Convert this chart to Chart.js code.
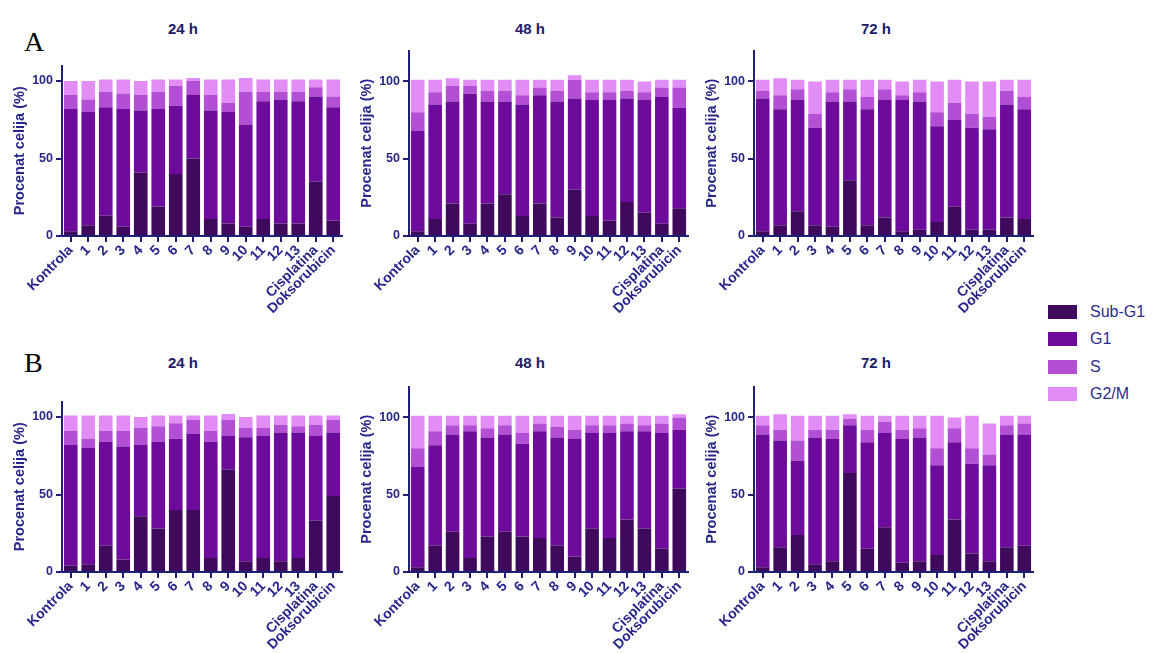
<!DOCTYPE html>
<html>
<head>
<meta charset="utf-8">
<script src="https://cdn.jsdelivr.net/npm/chart.js@4.4.1/dist/chart.umd.min.js"></script>
<style>
  body { margin: 0; background: #fff; width: 1156px; height: 653px; overflow: hidden; position: relative; }
  .panel { position: absolute; }
  .ttl { position: absolute; font: bold 15px "Liberation Sans", Arial, sans-serif; color: #1c1c6e; transform: translate(-50%, -50%); white-space: nowrap; }
  .letter { position: absolute; font: 28px "Liberation Serif", "Times New Roman", serif; color: #000; }
  .legend { position: absolute; left: 1048px; top: 298px; font: 16px "Liberation Sans", Arial, sans-serif; color: #2c2c8e; }
  .legend div { height: 27.5px; display: flex; align-items: center; }
  .legend span.box { width: 29px; height: 14px; margin-right: 13px; display: inline-block; }
</style>
</head>
<body>

<div class="letter" style="left:24px;top:26px;">A</div>
<div class="letter" style="left:24px;top:347px;">B</div>

<div class="ttl" style="left:183px;top:28px;">24 h</div>
<div class="ttl" style="left:530px;top:28px;">48 h</div>
<div class="ttl" style="left:876px;top:28px;">72 h</div>
<div class="ttl" style="left:183px;top:362px;">24 h</div>
<div class="ttl" style="left:530px;top:362px;">48 h</div>
<div class="ttl" style="left:876px;top:362px;">72 h</div>

<div class="panel" id="pA24"><canvas id="cA24"></canvas></div>
<div class="panel" id="pA48"><canvas id="cA48"></canvas></div>
<div class="panel" id="pA72"><canvas id="cA72"></canvas></div>
<div class="panel" id="pB24"><canvas id="cB24"></canvas></div>
<div class="panel" id="pB48"><canvas id="cB48"></canvas></div>
<div class="panel" id="pB72"><canvas id="cB72"></canvas></div>

<div class="legend" id="legend"></div>

<script>
// ---- data (percent of cells per phase) ----
const categories = ['Kontrola', '1', '2', '3', '4', '5', '6', '7', '8', '9', '10', '11', '12', '13', 'Cisplatina', 'Doksorubicin'];
const phases = ['Sub-G1', 'G1', 'S', 'G2/M'];
const yTicks = [0, 50, 100];

// A - 24 h
const a24SubG1 = [3, 7, 13, 6, 41, 19, 40, 50, 11, 8, 6, 11, 8, 8, 35, 10];
const a24G1    = [79, 73, 70, 76, 40, 63, 44, 41, 70, 72, 66, 76, 80, 79, 55, 73];
const a24S     = [9, 8, 10, 10, 10, 11, 13, 9, 10, 6, 21, 6, 5, 6, 6, 7];
const a24G2M   = [9, 12, 8, 9, 9, 8, 4, 2, 10, 15, 9, 8, 8, 8, 5, 11];
// A - 48 h
const a48SubG1 = [3, 11, 21, 8, 21, 27, 13, 21, 12, 30, 13, 10, 22, 15, 8, 18];
const a48G1    = [65, 74, 66, 84, 66, 60, 72, 70, 75, 59, 75, 78, 67, 73, 82, 65];
const a48S     = [12, 8, 10, 5, 7, 7, 6, 5, 7, 12, 5, 5, 5, 5, 6, 13];
const a48G2M   = [21, 8, 5, 4, 7, 7, 10, 5, 7, 3, 8, 8, 7, 7, 5, 5];
// A - 72 h
const a72SubG1 = [3, 7, 16, 7, 6, 36, 7, 12, 3, 4, 9, 19, 4, 4, 12, 11];
const a72G1    = [86, 75, 72, 63, 81, 51, 75, 76, 85, 83, 62, 56, 66, 65, 73, 71];
const a72S     = [5, 9, 7, 9, 6, 8, 8, 7, 3, 6, 9, 11, 9, 8, 9, 8];
const a72G2M   = [7, 11, 6, 21, 8, 6, 11, 6, 9, 8, 20, 15, 21, 23, 7, 11];
// B - 24 h
const b24SubG1 = [4, 5, 17, 8, 36, 28, 40, 40, 9, 66, 7, 9, 7, 9, 33, 49];
const b24G1    = [78, 75, 67, 73, 46, 56, 46, 49, 75, 22, 80, 79, 83, 81, 55, 41];
const b24S     = [9, 6, 7, 10, 11, 10, 10, 9, 7, 10, 6, 5, 5, 4, 7, 8];
const b24G2M   = [10, 15, 10, 10, 7, 7, 5, 3, 10, 4, 7, 8, 6, 7, 6, 3];
// B - 48 h
const b48SubG1 = [3, 17, 26, 9, 23, 26, 23, 22, 17, 10, 28, 22, 34, 28, 15, 54];
const b48G1    = [65, 65, 63, 82, 64, 63, 60, 69, 70, 76, 62, 68, 57, 63, 75, 38];
const b48S     = [12, 9, 6, 4, 6, 6, 7, 5, 7, 6, 5, 5, 5, 4, 6, 8];
const b48G2M   = [21, 10, 6, 6, 8, 6, 11, 5, 7, 9, 6, 6, 5, 6, 5, 2];
// B - 72 h
const b72SubG1 = [3, 16, 24, 5, 7, 64, 15, 29, 6, 7, 11, 34, 12, 7, 16, 17];
const b72G1    = [86, 69, 48, 82, 79, 31, 69, 61, 80, 80, 58, 50, 58, 62, 73, 72];
const b72S     = [6, 7, 13, 5, 6, 4, 8, 7, 6, 6, 11, 9, 10, 7, 6, 7];
const b72G2M   = [6, 10, 16, 9, 9, 3, 9, 4, 9, 8, 21, 7, 21, 20, 6, 5];

const colors = ['#400a5c', '#6c0b9c', '#b24fd4', '#e28cf6'];
const navy = '#1f1f78';
const textNavy = '#26268c';

// legend
const legendEl = document.getElementById('legend');
phases.forEach((p, i) => {
    const row = document.createElement('div');
    row.innerHTML = `<span class="box" style="background:${colors[i]}"></span>${p}`;
    legendEl.appendChild(row);
});

const Y_W = 54;   // y axis box width
const X_H = 80;   // x axis box height
const PAD_T = 10, PAD_R = 10;

function makePanel(key, plotLeft, plotRight, plotTop, plotH, yMax, series) {
    const wrap = document.getElementById('p' + key);
    wrap.style.left = (plotLeft - Y_W) + 'px';
    wrap.style.top = (plotTop - PAD_T) + 'px';
    wrap.style.width = (plotRight + PAD_R - (plotLeft - Y_W)) + 'px';
    wrap.style.height = (PAD_T + plotH + X_H) + 'px';

    new Chart(document.getElementById('c' + key), {
        type: 'bar',
        data: {
            labels: categories,
            datasets: series.map((d, i) => ({
                label: phases[i],
                data: d,
                backgroundColor: colors[i],
                borderWidth: 0,
                barPercentage: 0.78,
                categoryPercentage: 1
            }))
        },
        options: {
            responsive: true,
            maintainAspectRatio: false,
            animation: false,
            layout: { padding: { top: PAD_T, right: PAD_R, left: 0, bottom: 0 } },
            plugins: { legend: { display: false }, tooltip: { enabled: false } },
            scales: {
                x: {
                    stacked: true,
                    afterFit: s => { s.height = X_H; },
                    border: { color: navy, width: 2 },
                    grid: { drawOnChartArea: false, offset: false, color: navy, lineWidth: 2, tickLength: 6 },
                    ticks: {
                        autoSkip: false, maxRotation: 45, minRotation: 45, padding: 0,
                        color: textNavy,
                        font: { family: 'Liberation Sans', weight: 'bold', size: 14 }
                    }
                },
                y: {
                    stacked: true,
                    min: 0, max: yMax,
                    afterFit: s => { s.width = Y_W; },
                    afterBuildTicks: s => { s.ticks = yTicks.map(v => ({ value: v })); },
                    border: { color: navy, width: 2 },
                    grid: { drawOnChartArea: false, color: navy, lineWidth: 2, tickLength: 6 },
                    ticks: {
                        padding: 3, color: textNavy,
                        font: { family: 'Liberation Sans', weight: 'bold', size: 12.5 }
                    },
                    title: {
                        display: true, text: 'Procenat celija (%)', color: textNavy,
                        padding: { top: 3, bottom: 2 },
                        font: { family: 'Liberation Sans', weight: 'bold', size: 14.5 }
                    }
                }
            }
        }
    });
}

makePanel('A24', 62, 342, 65, 171, 110, [a24SubG1, a24G1, a24S, a24G2M]);
makePanel('A48', 409, 688, 50, 186, 120, [a48SubG1, a48G1, a48S, a48G2M]);
makePanel('A72', 754, 1033, 50, 186, 120, [a72SubG1, a72G1, a72S, a72G2M]);
makePanel('B24', 62, 342, 401, 171, 110, [b24SubG1, b24G1, b24S, b24G2M]);
makePanel('B48', 409, 688, 386, 186, 120, [b48SubG1, b48G1, b48S, b48G2M]);
makePanel('B72', 754, 1033, 386, 186, 120, [b72SubG1, b72G1, b72S, b72G2M]);
</script>
</body>
</html>
